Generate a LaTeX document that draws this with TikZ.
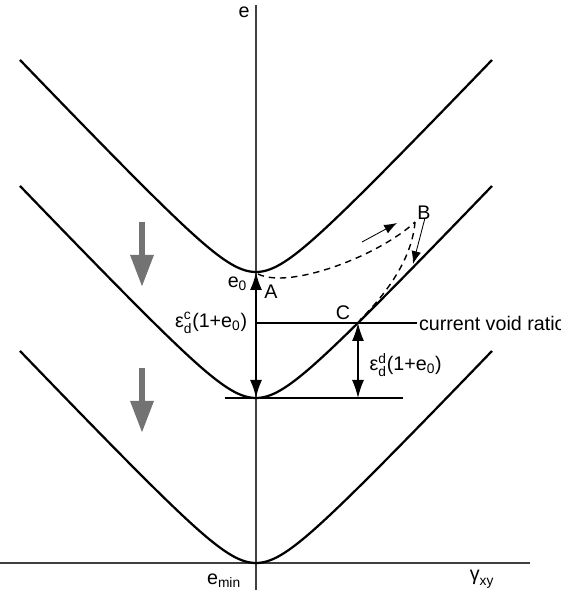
\documentclass[tikz,border=0pt]{standalone}
\usepackage{amsmath}
\usepackage{fontspec}
\setmainfont{Liberation Sans}
\usetikzlibrary{arrows.meta}

\begin{document}
\begin{tikzpicture}[
    font=\fontsize{14}{16}\selectfont,
    curve/.style={line width=1.6pt},
    axisline/.style={line width=1.2pt, black!75},
    levelline/.style={line width=0.9pt},
    dimarrow/.style={line width=0.9pt, {Latex[length=4.5mm,width=3mm]}-{Latex[length=4.5mm,width=3mm]}},
    smallarrow/.style={line width=0.6pt, -{Latex[length=3.2mm,width=2.4mm]}},
    stresspath/.style={line width=1pt, dash pattern=on 4.5pt off 3.5pt},
    sinkarrow/.style={line width=4.3pt, black!55, -{Triangle[length=8mm,width=5.5mm]}}
]
\useasboundingbox (-6.4,-0.9) rectangle (7.625,14.075);

% axes
\coordinate (top) at (0,13.95);
\coordinate (bot) at (0,-0.675);
\coordinate (left) at (-6.4,0);
\coordinate (right) at (6.85,0);
\draw[axisline] (bot) -- (top);
\draw[axisline] (left) -- (right);
\node[anchor=north east, inner sep=1pt] (elabel) at (-0.12,13.95) {e};
\node (emin) at (-0.8,-0.45) {$\text{e}_{\text{min}}$};
\node (gxy) at (5.65,-0.4) {$\text{γ}_{\text{xy}}$};

% state boundary curves
\foreach \v in {7.275,4.125,0}
  \draw[curve, domain=-5.9:5.9, samples=101, smooth]
    plot (\x, {\v+sqrt(0.97*0.97+(1.05*\x)*(1.05*\x))-0.97});

\coordinate (e0) at (0,7.275);
\coordinate (ec) at (0,4.125);
\coordinate (C) at (2.55,6.0);
\coordinate (Cfoot) at (2.55,4.125);
\coordinate (B) at (3.975,8.525);
\coordinate (A) at (0.05,7.225);

% levels
\draw[levelline] (-0.775,4.125) -- (3.675,4.125);
\draw[levelline] (0,6.0) -- (4.025,6.0)
  node[anchor=west, inner sep=1pt] (cvr) {current void ratio};

% dimensions
\draw[dimarrow, line width=1.4pt] (e0) -- (ec);
\draw[dimarrow] (C) -- (Cfoot);
\node[anchor=north east, inner sep=1pt] (e0label) at (-0.18,7.2) {$\text{e}_{\text{0}}$};
\node[anchor=east, inner sep=1pt] (epsc) at (-0.18,6.0)
  {$\text{ε}^{\text{c}}_{\text{d}}$(1+$\text{e}_{\text{0}}$)};
\node[anchor=west, inner sep=1pt] (epsd) at (2.8,4.95)
  {$\text{ε}^{\text{d}}_{\text{d}}$(1+$\text{e}_{\text{0}}$)};

% stress path
\node (Alabel) at (0.375,6.775) {A};
\node (Blabel) at (4.2,8.75) {B};
\node (Clabel) at (2.175,6.25) {C};
\draw[stresspath] (A) .. controls (0.85,6.825) and (3.1,7.7) .. (B);
\draw[stresspath] (B) .. controls (3.9,7.575) and (3.225,6.7) .. (2.6,6.075);
\draw[smallarrow] (2.65,8.025) -- (3.525,8.5);
\draw[smallarrow] (4.225,8.625) -- (3.925,7.475);

% downward shift of the curves
\draw[sinkarrow] (-2.85,8.525) -- (-2.85,6.9);
\draw[sinkarrow] (-2.85,4.875) -- (-2.85,3.25);
\end{tikzpicture}
\end{document}
